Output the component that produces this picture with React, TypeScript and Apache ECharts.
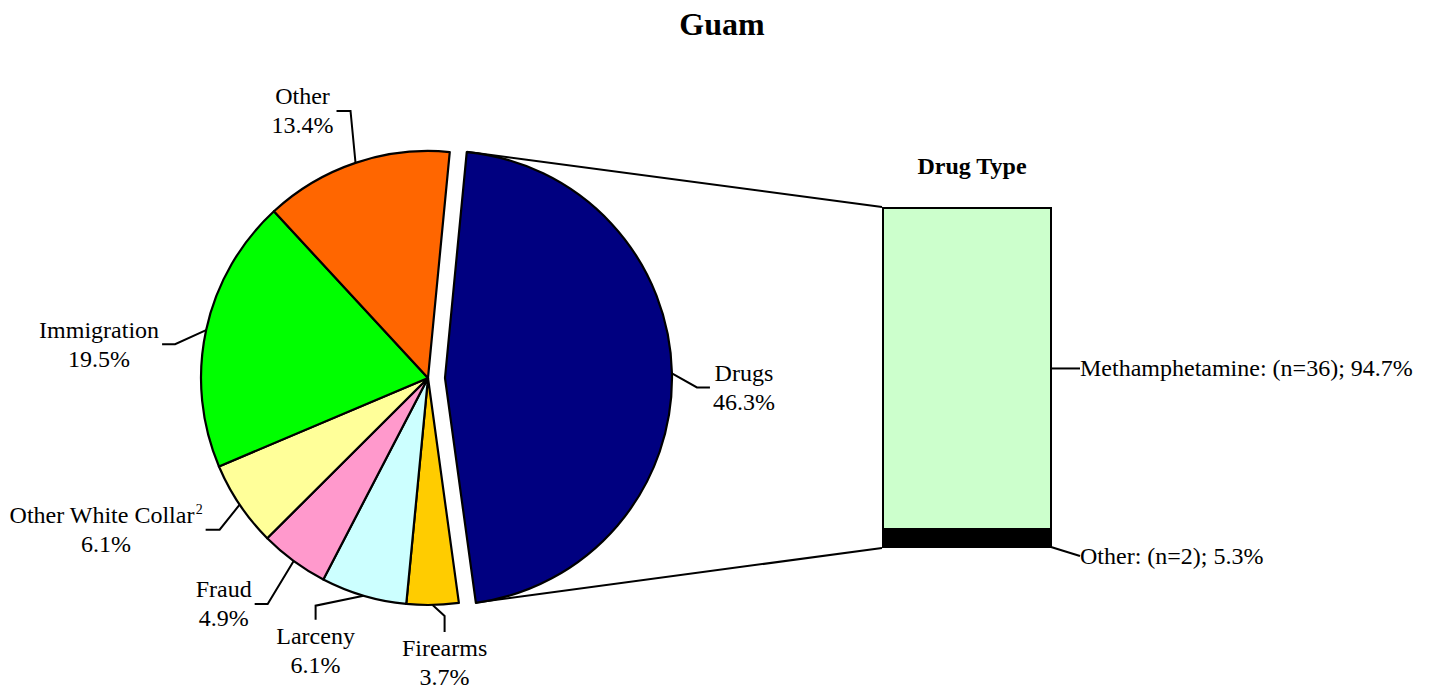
import React, { useEffect, useRef } from 'react';
import * as echarts from 'echarts';

// ---- data ----
const offenseNames = ['Drugs', 'Firearms', 'Larceny', 'Fraud', 'Other White Collar', 'Immigration', 'Other'];
const offensePct = [46.3, 3.7, 6.1, 4.9, 6.1, 19.5, 13.4];
const offenseNotes = ['', '', '', '', '2', '', ''];
const offenseColors = ['#000080', '#FFCC00', '#CCFFFF', '#FF99CC', '#FFFF99', '#00FF00', '#FF6600'];

const drugTypes = ['Methamphetamine', 'Other'];
const drugCounts = [36, 2];
const drugPct = [94.7, 5.3];
const drugColors = ['#CCFFCC', '#000000'];

const mainTitle = 'Guam';
const barTitle = 'Drug Type';

// ---- styles / layout ----
const FONT = 'Liberation Serif';
const PIE_CX = 428;
const PIE_CY = 378;
const PIE_R = 227;
const EXPLODE = 17;
const START_DEG = 5.5; // clockwise from 12 o'clock
const GRID = { left: 882, top: 207, width: 170, height: 341 };

// label guide offsets relative to the slice edge anchor
const labelGuides: { e: number[]; h: number[]; place: string }[] = [
  { e: [25, 14], h: [13, 0], place: 'right' },
  { e: [12, 11], h: [0, 16], place: 'below' },
  { e: [-48, 10], h: [0, 14], place: 'below' },
  { e: [-26, 43], h: [-13, 0], place: 'left' },
  { e: [-20, 25], h: [-14, 0], place: 'left' },
  { e: [-31, 14], h: [-13, 0], place: 'left' },
  { e: [-5, -52], h: [-14, 0], place: 'left' },
];
const barGuides: { e: number[]; h: number[] }[] = [
  { e: [26, 0], h: [0, 0] },
  { e: [16, 17], h: [10, 0] },
];

function pieLabelLayout(params: any) {
  const g = labelGuides[params.dataIndex];
  const pts = params.labelLinePoints;
  if (!g || !pts) return {};
  const p0 = pts[0];
  const p1 = [p0[0] + g.e[0], p0[1] + g.e[1]];
  const p2 = [p1[0] + g.h[0], p1[1] + g.h[1]];
  if (g.place === 'below') {
    return { x: p2[0], y: p2[1] + 2, align: 'center', verticalAlign: 'top', labelLinePoints: [p0, p1, p2] };
  }
  if (g.place === 'left') {
    return { x: p2[0] - 3, y: p2[1], align: 'right', verticalAlign: 'middle', labelLinePoints: [p0, p1, p2] };
  }
  return { x: p2[0] + 3, y: p2[1], align: 'left', verticalAlign: 'middle', labelLinePoints: [p0, p1, p2] };
}

function makeBarLabelLayout(idx: number) {
  return (params: any) => {
    const r = params.rect;
    const g = barGuides[idx];
    const p0 = [r.x + r.width, r.y + r.height / 2];
    const p1 = [p0[0] + g.e[0], p0[1] + g.e[1]];
    const p2 = [p1[0] + g.h[0], p1[1] + g.h[1]];
    return { x: p2[0] + 2, y: p2[1], align: 'left', verticalAlign: 'middle', labelLinePoints: [p0, p1, p2] };
  };
}

const labelRich = {
  a: { fontFamily: FONT, fontSize: 24, lineHeight: 29, color: '#000', align: 'center' },
  sup: { fontFamily: FONT, fontSize: 14, lineHeight: 29, color: '#000', align: 'center', verticalAlign: 'top', padding: [2, 0, 0, 1] },
};

function pieData(visibleIdx: (i: number) => boolean) {
  return offenseNames.map((name, i) => {
    const vis = visibleIdx(i);
    return {
      name,
      value: offensePct[i],
      itemStyle: vis
        ? { color: offenseColors[i], borderColor: '#000', borderWidth: 2.2 }
        : { color: 'rgba(0,0,0,0)', borderWidth: 0 },
      label: { show: vis },
      labelLine: { show: vis },
    };
  });
}

function pieSeries(cx: number, visible: (i: number) => boolean) {
  return {
    type: 'pie',
    center: [cx, PIE_CY],
    radius: PIE_R,
    startAngle: 90 - START_DEG,
    clockwise: true,
    avoidLabelOverlap: false,
    silent: true,
    emphasis: { disabled: true },
    label: {
      position: 'outside',
      overflow: 'none',
      formatter: (p: any) => {
        const note = offenseNotes[p.dataIndex];
        return `{a|${p.name}}${note ? `{sup|${note}}` : ''}\n{a|${p.value.toFixed(1)}%}`;
      },
      rich: labelRich,
    },
    labelLine: { show: true, length: 20, length2: 10, lineStyle: { color: '#000', width: 2 } },
    labelLayout: pieLabelLayout,
    data: pieData(visible),
  };
}

export default function App() {
  const ref = useRef<HTMLDivElement>(null);
  useEffect(() => {
    if (!ref.current) return;
    const chart = echarts.init(ref.current, undefined, { renderer: 'svg' });

    // geometry of the exploded drugs slice, derived from the data
    const total = offensePct.reduce((a, b) => a + b, 0);
    const a0 = (START_DEG * Math.PI) / 180;
    const a1 = a0 + (offensePct[0] / total) * Math.PI * 2;
    const mid = (a0 + a1) / 2;
    const dcx = PIE_CX + EXPLODE * Math.sin(mid);
    const dcy = PIE_CY - EXPLODE * Math.cos(mid);
    const top = [dcx + PIE_R * Math.sin(a0), dcy - PIE_R * Math.cos(a0)];
    const bot = [dcx + PIE_R * Math.sin(a1), dcy - PIE_R * Math.cos(a1)];

    const barOrder = [1, 0]; // bottom to top
    chart.setOption({
      animation: false,
      backgroundColor: '#fff',
      title: [
        { text: mainTitle, left: 717, top: 3, textAlign: 'center', textStyle: { fontFamily: FONT, fontSize: 32, fontWeight: 'bold', color: '#000' } },
        { text: barTitle, left: GRID.left + GRID.width / 2, top: 149, textAlign: 'center', textStyle: { fontFamily: FONT, fontSize: 24, fontWeight: 'bold', color: '#000' } },
      ],
      grid: { ...GRID },
      xAxis: { type: 'category', data: [barTitle], show: false },
      yAxis: { type: 'value', min: 0, max: 100, show: false },
      series: [
        pieSeries(PIE_CX, (i) => i !== 0),
        pieSeries(dcx, (i) => i === 0),
        ...barOrder.map((k) => ({
          type: 'bar',
          name: drugTypes[k],
          stack: 'drug',
          barWidth: '100%',
          silent: true,
          emphasis: { disabled: true },
          data: [drugPct[k]],
          itemStyle: { color: drugColors[k], borderColor: '#000', borderWidth: 2 },
          label: {
            show: true,
            position: 'right',
            formatter: () => `${drugTypes[k]}: (n=${drugCounts[k]}); ${drugPct[k].toFixed(1)}%`,
            fontFamily: FONT,
            fontSize: 24,
            color: '#000',
          },
          labelLine: { show: true, lineStyle: { color: '#000', width: 2 } },
          labelLayout: makeBarLabelLayout(k),
        })),
      ],
      graphic: [
        { type: 'line', shape: { x1: top[0], y1: top[1], x2: GRID.left, y2: GRID.top }, style: { stroke: '#000', lineWidth: 2 } },
        { type: 'line', shape: { x1: bot[0], y1: bot[1], x2: GRID.left, y2: GRID.top + GRID.height }, style: { stroke: '#000', lineWidth: 2 } },
      ],
    });
    return () => chart.dispose();
  }, []);
  return <div ref={ref} style={{ position: 'absolute', left: 0, top: 0, width: 1429, height: 693, background: '#fff' }} />;
}
